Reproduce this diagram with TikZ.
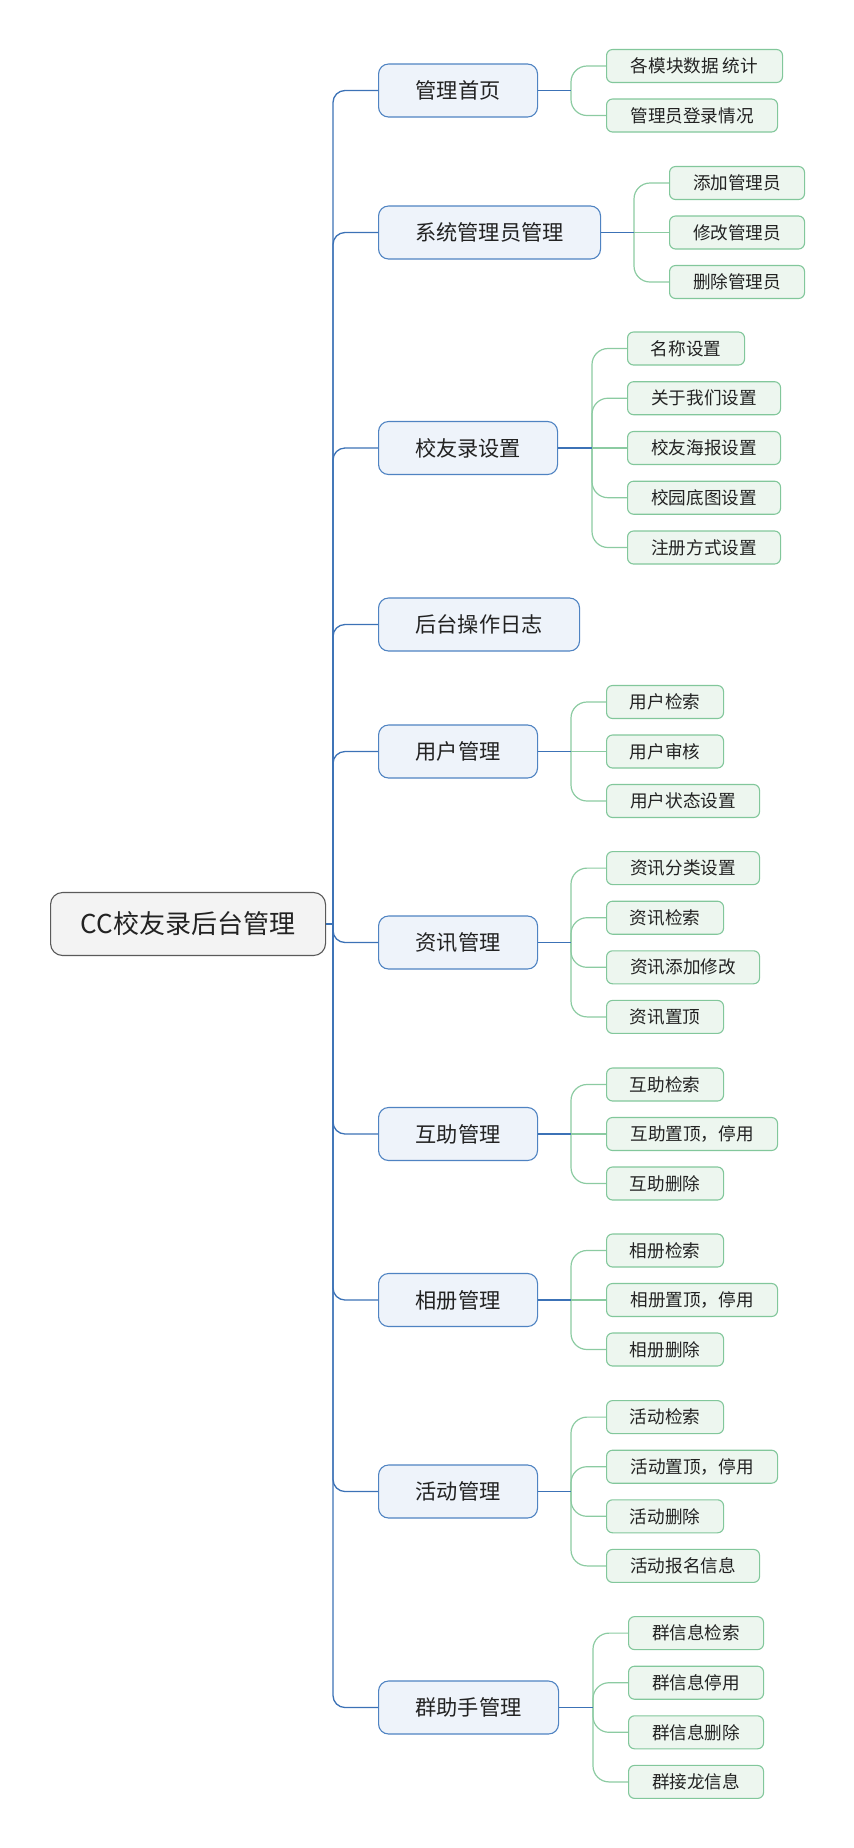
\documentclass[tikz,border=0pt]{standalone}
\usepackage{fontspec}
\setmainfont{Noto Sans CJK SC}
\definecolor{rootfill}{HTML}{F3F3F3}
\definecolor{rootdraw}{HTML}{5A5A5A}
\definecolor{lonefill}{HTML}{EEF3FA}
\definecolor{lonedraw}{HTML}{4F83C2}
\definecolor{ltwofill}{HTML}{EDF6EF}
\definecolor{ltwodraw}{HTML}{82C79B}
\definecolor{trunkcol}{HTML}{3C72B6}
\definecolor{twigcol}{HTML}{8CCBA2}
\definecolor{txt}{HTML}{222222}
\tikzset{
  rootbox/.style={draw=rootdraw, fill=rootfill, line width=1.1pt, rounded corners=12pt,
    minimum height=63pt, minimum width=275pt, inner xsep=0pt, font=\fontsize{26}{30}\selectfont,
    text=txt, anchor=west},
  lonebox/.style={draw=lonedraw, fill=lonefill, line width=1.1pt, rounded corners=10pt,
    minimum height=53pt, inner xsep=0pt, font=\fontsize{21.2}{24}\selectfont, text=txt, anchor=west},
  ltwobox/.style={draw=ltwodraw, fill=ltwofill, line width=1.1pt, rounded corners=6pt,
    minimum height=33pt, inner xsep=0pt, font=\fontsize{17.6}{20}\selectfont, text=txt, anchor=west},
  trunk/.style={draw=trunkcol, line width=1.3pt, rounded corners=12pt},
  stem/.style={draw=trunkcol, line width=1.2pt},
  twig/.style={draw=twigcol, line width=1.2pt, rounded corners=16pt},
  flat/.style={draw=twigcol, line width=1.2pt},
}
\begin{document}
\begin{tikzpicture}[x=1pt,y=-1pt]
\useasboundingbox (0,0) rectangle (854,1848);
% root
\node[rootbox] (root) at (50,924) {CC校友录后台管理};
\coordinate (tr) at (333,924);
% level one
\node[lonebox, minimum width=159pt] (a) at (378,90.5) {管理首页};
\node[lonebox, minimum width=222pt] (b) at (378,232.5) {系统管理员管理};
\node[lonebox, minimum width=179pt] (c) at (378,448) {校友录设置};
\node[lonebox, minimum width=201pt] (d) at (378,624.5) {后台操作日志};
\node[lonebox, minimum width=159pt] (e) at (378,751.5) {用户管理};
\node[lonebox, minimum width=159pt] (f) at (378,942.5) {资讯管理};
\node[lonebox, minimum width=159pt] (g) at (378,1134) {互助管理};
\node[lonebox, minimum width=159pt] (h) at (378,1300) {相册管理};
\node[lonebox, minimum width=159pt] (i) at (378,1491.5) {活动管理};
\node[lonebox, minimum width=180pt] (j) at (378,1707.5) {群助手管理};
% trunk
\draw[stem] (root.east) -- (tr);
\foreach \n in {a,b,c,d,e,f,g,h,i,j}{\draw[trunk] (tr) |- (\n.west);}
% spines
\coordinate (sa) at (571,90.5);
\coordinate (sb) at (634,232.5);
\coordinate (sc) at (592,448);
\coordinate (se) at (571,751.5);
\coordinate (sf) at (571,942.5);
\coordinate (sg) at (571,1134);
\coordinate (sh) at (571,1300);
\coordinate (si) at (571,1491.5);
\coordinate (sj) at (593,1707.5);
% level two
\node[ltwobox, minimum width=176pt] (a1) at (606,66) {各模块数据 统计};
\node[ltwobox, minimum width=171pt] (a2) at (606,115.5) {管理员登录情况};
\node[ltwobox, minimum width=135pt] (b1) at (669,183) {添加管理员};
\node[ltwobox, minimum width=135pt] (b2) at (669,232.5) {修改管理员};
\node[ltwobox, minimum width=135pt] (b3) at (669,282) {删除管理员};
\node[ltwobox, minimum width=117pt] (c1) at (627,348.5) {名称设置};
\node[ltwobox, minimum width=153pt] (c2) at (627,398.2) {关于我们设置};
\node[ltwobox, minimum width=153pt] (c3) at (627,448) {校友海报设置};
\node[ltwobox, minimum width=153pt] (c4) at (627,497.7) {校园底图设置};
\node[ltwobox, minimum width=153pt] (c5) at (627,547.5) {注册方式设置};
\node[ltwobox, minimum width=117pt] (e1) at (606,702) {用户检索};
\node[ltwobox, minimum width=117pt] (e2) at (606,751.5) {用户审核};
\node[ltwobox, minimum width=153pt] (e3) at (606,801) {用户状态设置};
\node[ltwobox, minimum width=153pt] (f1) at (606,868.1) {资讯分类设置};
\node[ltwobox, minimum width=117pt] (f2) at (606,917.7) {资讯检索};
\node[ltwobox, minimum width=153pt] (f3) at (606,967.3) {资讯添加修改};
\node[ltwobox, minimum width=117pt] (f4) at (606,1016.9) {资讯置顶};
\node[ltwobox, minimum width=117pt] (g1) at (606,1084.5) {互助检索};
\node[ltwobox, minimum width=171pt] (g2) at (606,1134) {互助置顶，停用};
\node[ltwobox, minimum width=117pt] (g3) at (606,1183.5) {互助删除};
\node[ltwobox, minimum width=117pt] (h1) at (606,1250.5) {相册检索};
\node[ltwobox, minimum width=171pt] (h2) at (606,1300) {相册置顶，停用};
\node[ltwobox, minimum width=117pt] (h3) at (606,1349.5) {相册删除};
\node[ltwobox, minimum width=117pt] (i1) at (606,1417.1) {活动检索};
\node[ltwobox, minimum width=171pt] (i2) at (606,1466.7) {活动置顶，停用};
\node[ltwobox, minimum width=117pt] (i3) at (606,1516.3) {活动删除};
\node[ltwobox, minimum width=153pt] (i4) at (606,1565.9) {活动报名信息};
\node[ltwobox, minimum width=135pt] (j1) at (628,1633.1) {群信息检索};
\node[ltwobox, minimum width=135pt] (j2) at (628,1682.7) {群信息停用};
\node[ltwobox, minimum width=135pt] (j3) at (628,1732.3) {群信息删除};
\node[ltwobox, minimum width=135pt] (j4) at (628,1781.9) {群接龙信息};
% twigs
\foreach \p/\k in {a/a1,a/a2,b/b1,b/b3,c/c1,c/c2,c/c4,c/c5,e/e1,e/e3,
  f/f1,f/f2,f/f3,f/f4,g/g1,g/g3,h/h1,h/h3,i/i1,i/i2,i/i3,i/i4,j/j1,j/j2,j/j3,j/j4}
  {\draw[twig] (s\p) |- (\k.west);}
\foreach \p/\k in {b/b2,c/c3,e/e2,g/g2,h/h2}
  {\draw[flat] (s\p) -- (\k.west);}
% stems
\foreach \n in {a,b,c,e,f,g,h,i,j}{\draw[stem] (\n.east) -- (s\n);}
\end{tikzpicture}
\end{document}
